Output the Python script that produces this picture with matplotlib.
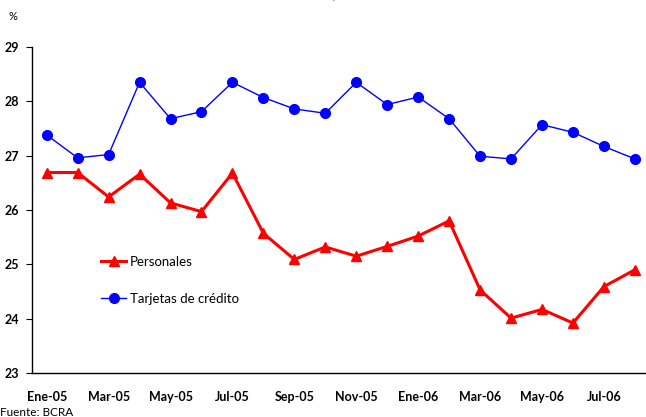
import matplotlib
matplotlib.use("Agg")
import matplotlib.pyplot as plt

plt.rcParams['font.family'] = ['Lato', 'DejaVu Sans']

# monthly rates, Ene-05 .. Ago-06
months = ['Ene-05', 'Feb-05', 'Mar-05', 'Abr-05', 'May-05', 'Jun-05', 'Jul-05',
          'Ago-05', 'Sep-05', 'Oct-05', 'Nov-05', 'Dic-05', 'Ene-06', 'Feb-06',
          'Mar-06', 'Abr-06', 'May-06', 'Jun-06', 'Jul-06', 'Ago-06']
personales = [26.69, 26.69, 26.24, 26.66, 26.13, 25.97, 26.68, 25.57, 25.09, 25.32,
              25.15, 25.33, 25.52, 25.80, 24.53, 24.01, 24.17, 23.92, 24.59, 24.90]
tarjetas = [27.38, 26.96, 27.02, 28.35, 27.68, 27.81, 28.35, 28.07, 27.86, 27.78,
            28.35, 27.94, 28.08, 27.68, 26.99, 26.94, 27.57, 27.43, 27.17, 26.94]
y_ticks = [23, 24, 25, 26, 27, 28, 29]

fig = plt.figure(figsize=(6.46, 4.17), dpi=100)
ax = fig.add_axes([32 / 646, 44 / 417, 1 - 32 / 646, 326 / 417])

x = list(range(len(months)))
ax.plot(x, personales, color='#ff0000', lw=2.2, marker='^', ms=7.5,
        label='Personales')
ax.plot(x, tarjetas, color='#0000ff', lw=1.0, marker='o', ms=7,
        label='Tarjetas de crédito')

ax.set_xlim(-0.475, 19.36)
ax.set_ylim(23, 29)
ax.set_yticks(y_ticks)
ax.set_yticklabels([str(t) for t in y_ticks], fontsize=9, fontweight='bold')
ax.set_xticks(x[::2])
ax.set_xticklabels(months[::2], fontsize=9, fontweight='bold')
ax.tick_params(axis='x', length=0, pad=13)
ax.tick_params(axis='y', length=4, width=0.8, direction='out', pad=5)

for side in ['top', 'right']:
    ax.spines[side].set_visible(False)
for side in ['left', 'bottom']:
    ax.spines[side].set_linewidth(1.0)

ax.legend(loc='center left', bbox_to_anchor=(0.104, 0.285), frameon=False,
          fontsize=9.5, handlelength=1.9, handletextpad=0.3, labelspacing=1.9,
          borderaxespad=0)

fig.text(13 / 646, 1 - 17 / 417, '%', fontsize=8, ha='center', va='center')
fig.text(0.0, 1 - 412 / 417, 'Fuente: BCRA', fontsize=8.5, ha='left', va='center')
# title sits mostly above the top edge; only its lower strip shows
fig.text(340 / 646, 1.0 - 0.003, 'Tasas de interés de préstamos al consumo',
         fontsize=10, fontweight='bold', color='#aaaaaa', ha='center', va='bottom')

fig.savefig('out.png', dpi=100)
